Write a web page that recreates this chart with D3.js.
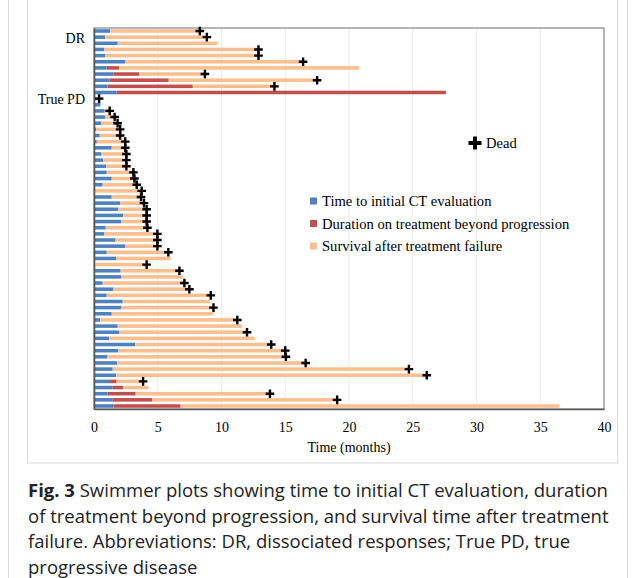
<!DOCTYPE html>
<html>
<head>
<meta charset="utf-8">
<script src="https://cdn.jsdelivr.net/npm/d3@7"></script>
<style>
  body { margin: 0; background: #fff; }
  svg { display: block; }
</style>
</head>
<body>
<svg width="634" height="578"></svg>
<script>
const width = 634
const height = 578
const margin = { top: 28, right: 30, bottom: 169, left: 94 }

// one entry per patient, top to bottom (months)
const ctTime = [1.26, 0.86, 1.86, 0.81, 0.89, 2.43, 1.0, 1.52, 1.2, 1.07, 1.78,
  0.2, 0.5, 0.84, 0.89, 0.58, 0.18, 0.45, 0.22, 1.39, 0.58, 0.71, 0.94, 1.0, 1.39, 0.68,
  0.08, 1.39, 2.04, 1.91, 2.3, 2.12, 0.92, 0.81, 1.65, 2.43, 1.0, 1.73, 0.08, 2.09, 2.12,
  0.68, 1.52, 1.0, 2.25, 2.12, 1.39, 0.47, 1.86, 1.96, 1.2, 3.24, 1.91, 1.05, 1.83, 1.47,
  1.75, 1.18, 1.47, 1.05, 1.47, 1.52]
const beyondTime = [0, 0, 0, 0, 0, 0, 0.96, 2.04, 4.66, 6.68, 25.82,
  0, 0, 0, 0, 0, 0, 0, 0, 0, 0, 0, 0, 0, 0, 0,
  0, 0, 0, 0, 0, 0, 0, 0, 0, 0, 0, 0, 0, 0, 0,
  0, 0, 0, 0, 0, 0, 0, 0, 0, 0, 0, 0, 0, 0, 0,
  0, 0.6, 0.83, 2.22, 3.11, 5.28]
const totalTime = [8.3, 8.85, 9.7, 12.9, 12.9, 16.4, 20.8, 8.7, 17.5, 14.15, 27.6,
  0.4, 0.5, 1.23, 1.62, 1.85, 2.05, 2.05, 2.45, 2.45, 2.54, 2.54, 2.54, 3.09, 3.17, 3.35,
  3.74, 3.69, 3.92, 4.13, 4.13, 4.13, 4.19, 4.97, 4.97, 4.97, 5.83, 6.02, 4.13, 6.7, 6.96,
  7.09, 7.48, 9.16, 9.1, 9.37, 9.37, 11.24, 11.6, 12.0, 12.6, 13.9, 15.0, 15.05, 16.6, 24.7,
  26.1, 3.85, 4.27, 13.8, 19.07, 36.5]
const dead = [1, 1, 0, 1, 1, 1, 0, 1, 1, 1, 0,
  1, 0, 1, 1, 1, 1, 1, 1, 1, 1, 1, 1, 1, 1, 1,
  1, 1, 1, 1, 1, 1, 1, 1, 1, 1, 1, 0, 1, 1, 0,
  1, 1, 1, 0, 1, 0, 1, 0, 1, 0, 1, 1, 1, 1, 1,
  1, 1, 0, 1, 1, 0]

const groupLabels = { 1: 'DR', 11: 'True PD' }
const xTicks = [0, 5, 10, 15, 20, 25, 30, 35, 40]
const legendLabels = ['Time to initial CT evaluation', 'Duration on treatment beyond progression', 'Survival after treatment failure']
const colors = ['#4f81bd', '#c0504d', '#fbbf8f']
const caption = [
  ['Fig. 3', ' Swimmer plots showing time to initial CT evaluation, duration'],
  ['', 'of treatment beyond progression, and survival time after treatment'],
  ['', 'failure. Abbreviations: DR, dissociated responses; True PD, true'],
  ['', 'progressive disease']
]

const rows = ctTime.map((ct, i) => ({
  i,
  segs: [
    [0, ct],
    [ct, ct + beyondTime[i]],
    [ct + beyondTime[i], Math.max(totalTime[i], ct + beyondTime[i])]
  ],
  end: totalTime[i],
  dead: dead[i]
}))

const svg = d3.select('svg')

// outer card + figure box
svg.append('rect')
  .attr('x', 8.5).attr('y', -20)
  .attr('width', 619).attr('height', 640)
  .attr('rx', 8)
  .attr('fill', 'none').attr('stroke', '#d9d9d9')

svg.append('rect')
  .attr('x', 27.5).attr('y', -5)
  .attr('width', 590).attr('height', 468)
  .attr('fill', 'none').attr('stroke', '#d9d9d9')

const xScale = d3.scaleLinear()
  .domain([0, 40])
  .range([margin.left, width - margin.right])

const yScale = d3.scaleBand()
  .domain(d3.range(ctTime.length))
  .range([margin.top, height - margin.bottom])
  .paddingInner(0.42)
  .paddingOuter(0.2)

// gridlines
svg.append('g')
  .selectAll('line')
  .data(xTicks.slice(1, -1))
  .enter().append('line')
  .attr('x1', d => xScale(d)).attr('x2', d => xScale(d))
  .attr('y1', margin.top).attr('y2', height - margin.bottom)
  .attr('stroke', '#ececec')

// frame
svg.append('rect')
  .attr('x', margin.left).attr('y', margin.top)
  .attr('width', xScale(40) - margin.left)
  .attr('height', height - margin.bottom - margin.top)
  .attr('fill', 'none').attr('stroke', '#6d6d6d')

// bars
const rowG = svg.append('g')
  .selectAll('g')
  .data(rows)
  .enter().append('g')

rowG.selectAll('rect')
  .data(d => d.segs.map((s, k) => ({ s, k, i: d.i })).filter(d => d.s[1] > d.s[0]))
  .enter().append('rect')
  .attr('x', d => xScale(d.s[0]))
  .attr('width', d => xScale(d.s[1]) - xScale(d.s[0]))
  .attr('y', d => yScale(d.i))
  .attr('height', yScale.bandwidth())
  .attr('fill', d => colors[d.k])

// death markers
const cross = s => `M${-s},0H${s}M0,${-s}V${s}`

svg.append('g')
  .selectAll('path')
  .data(rows.filter(d => d.dead))
  .enter().append('path')
  .attr('d', cross(4.3))
  .attr('transform', d => `translate(${xScale(d.end)},${yScale(d.i) + yScale.bandwidth() / 2})`)
  .attr('stroke', '#000')
  .attr('stroke-width', 2.4)

// axes
const xAxis = d3.axisBottom(xScale)
  .tickValues(xTicks)
  .tickSize(0)
  .tickPadding(13)

svg.append('g')
  .attr('transform', `translate(0,${height - margin.bottom})`)
  .call(xAxis)
  .call(g => g.select('.domain').attr('stroke', '#595959').attr('stroke-width', 1.6))

const yAxis = d3.axisLeft(yScale)
  .tickValues(Object.keys(groupLabels).map(Number))
  .tickFormat(d => groupLabels[d])
  .tickSize(0)
  .tickPadding(9)

svg.append('g')
  .attr('transform', `translate(${margin.left},0)`)
  .call(yAxis)
  .call(g => g.select('.domain').attr('stroke', '#595959').attr('stroke-width', 1.6))
  .selectAll('text').attr('dy', '0.4em')

svg.selectAll('.tick text')
  .attr('fill', '#000')
  .attr('font-family', '"Liberation Serif", serif')
  .attr('font-size', 14)

svg.append('text')
  .attr('x', (xScale(0) + xScale(40)) / 2)
  .attr('y', 452)
  .attr('text-anchor', 'middle')
  .attr('font-family', '"Liberation Serif", serif')
  .attr('font-size', 14)
  .text('Time (months)')

// legend
const legend = svg.append('g')
  .selectAll('g')
  .data(legendLabels)
  .enter().append('g')
  .attr('transform', (d, i) => `translate(310,${201 + i * 22.5})`)

legend.append('rect')
  .attr('x', 0).attr('y', -3.5)
  .attr('width', 7).attr('height', 7)
  .attr('fill', (d, i) => colors[i])

legend.append('text')
  .attr('x', 12).attr('y', 5)
  .attr('font-family', '"Liberation Serif", serif')
  .attr('font-size', 14.6)
  .text(d => d)

svg.append('path')
  .attr('d', cross(6.5))
  .attr('transform', 'translate(475,143)')
  .attr('stroke', '#000')
  .attr('stroke-width', 4)

svg.append('text')
  .attr('x', 486).attr('y', 148)
  .attr('font-family', '"Liberation Serif", serif')
  .attr('font-size', 14.6)
  .text('Dead')

// caption
const cap = svg.append('text')
  .attr('font-family', '"Open Sans", sans-serif')
  .attr('font-size', 18.5)
  .attr('fill', '#222')

caption.forEach((line, i) => {
  const t = cap.append('tspan')
    .attr('x', 28)
    .attr('y', 497 + i * 25.6)
  if (line[0]) {
    t.append('tspan').attr('font-weight', 'bold').text(line[0])
  }
  t.append('tspan').text(line[1])
})
</script>
</body>
</html>
